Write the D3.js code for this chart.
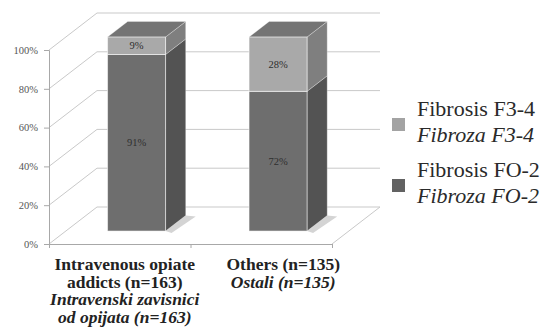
<!DOCTYPE html>
<html>
<head>
<meta charset="utf-8">
<script src="https://cdn.jsdelivr.net/npm/d3@7"></script>
<style>
  #chart text, #chart tspan { font-family: "Liberation Serif", "Times New Roman", Tinos, serif !important; }
</style>
</head>
<body style="margin:0;padding:0;background:#fff">
<svg id="chart" width="548" height="328" style="display:block"></svg>
<script>
// Groups and their two-line (English / Serbian) labels
const categories = ["iv", "others"];
const categoryLabelsEn = [["Intravenous opiate", "addicts (n=163)"], ["Others (n=135)"]];
const categoryLabelsSr = [["Intravenski zavisnici", "od opijata (n=163)"], ["Ostali (n=135)"]];

// Share of patients per fibrosis stage (percent)
const fibrosisF02 = [91, 72];
const fibrosisF34 = [9, 28];

// Series names for the legend
const seriesEn = ["Fibrosis F3-4", "Fibrosis FO-2"];
const seriesSr = ["Fibroza F3-4", "Fibroza FO-2"];

// Value axis ticks
const yTicks = [0, 20, 40, 60, 80, 100];

// ---------- layout ----------
const SERIF = "Liberation Serif";
const svg = d3.select("#chart");
const front = { left: 49, right: 332, top: 50, bottom: 244 };
const depth = { dx: 48, dy: -37 };        // vector from front plane to back wall
const barDepth = { f0: 0.35, f1: 0.77 };  // bar placement inside the depth

const x = d3.scaleBand().domain(categories).range([front.left, front.right]);
const y = d3.scaleLinear().domain([0, 100]).range([front.bottom, front.top]);
const barW = x.bandwidth() * 0.41;

const gridColor = "#c9c9c9";

// ---------- walls and floor ----------
const walls = svg.append("g");
yTicks.forEach(t => {
  const yy = y(t);
  walls.append("path")
    .attr("d", `M${front.left},${yy} L${front.left + depth.dx},${yy + depth.dy} L${front.right + depth.dx},${yy + depth.dy}`)
    .attr("fill", "none").attr("stroke", gridColor).attr("stroke-width", 1);
});
walls.append("path")
  .attr("d", `M${front.right},${front.bottom} L${front.right + depth.dx},${front.bottom + depth.dy}`)
  .attr("fill", "none").attr("stroke", gridColor).attr("stroke-width", 1);

// ---------- stacked 3D bars ----------
const stackData = categories.map((c, i) => ({
  cat: c,
  segs: [
    { key: "F02", y0: 0, y1: fibrosisF02[i], value: fibrosisF02[i] },
    { key: "F34", y0: fibrosisF02[i], y1: fibrosisF02[i] + fibrosisF34[i], value: fibrosisF34[i] }
  ]
}));

const faceColors = {
  F02: { front: "#6e6e6e", side: "#535353", top: "#616161" },
  F34: { front: "#a9a9a9", side: "#7f7f7f", top: "#747474" }
};

const ox = barDepth.f0 * depth.dx, oy = barDepth.f0 * depth.dy;
const sx = (barDepth.f1 - barDepth.f0) * depth.dx, sy = (barDepth.f1 - barDepth.f0) * depth.dy;

const bars = svg.append("g");
stackData.forEach(d => {
  const xl = x(d.cat) + (x.bandwidth() - barW) / 2 + ox;
  const xr = xl + barW;
  const yb = y(0) + oy;
  // faint floor shadow behind the bar
  bars.append("path")
    .attr("d", `M${xr},${yb} L${xr + sx},${yb + sy} L${xr + sx + 10},${yb + sy + 1} L${xr + 6},${yb + 2} Z`)
    .attr("fill", "#d4d4d4");

  d.segs.forEach((s, si) => {
    const yt = y(s.y1) + oy, ybs = y(s.y0) + oy;
    const col = faceColors[s.key];
    bars.append("path")
      .attr("d", `M${xr},${yt} L${xr + sx},${yt + sy} L${xr + sx},${ybs + sy} L${xr},${ybs} Z`)
      .attr("fill", col.side).attr("stroke", "rgba(255,255,255,0.35)").attr("stroke-width", 0.8);
    if (si === d.segs.length - 1) {
      bars.append("path")
        .attr("d", `M${xl},${yt} L${xl + sx},${yt + sy} L${xr + sx},${yt + sy} L${xr},${yt} Z`)
        .attr("fill", col.top).attr("stroke", "rgba(255,255,255,0.35)").attr("stroke-width", 0.8);
    }
    bars.append("rect")
      .attr("x", xl).attr("y", yt).attr("width", barW).attr("height", ybs - yt)
      .attr("fill", col.front).attr("stroke", "rgba(255,255,255,0.55)").attr("stroke-width", 1);
    bars.append("text")
      .attr("x", xl + barW / 2).attr("y", (yt + ybs) / 2 + 3.5)
      .attr("text-anchor", "middle").attr("font-size", 10.5).attr("fill", "#2e2e2e")
      .attr("font-family", SERIF)
      .text(s.value + "%");
  });
});

// ---------- axes ----------
const axisColor = "#a8a8a8";
const yAxis = d3.axisLeft(y).tickValues(yTicks).tickSize(5).tickPadding(6).tickFormat(d => d + "%");
const gy = svg.append("g").attr("transform", `translate(${front.left},0)`).call(yAxis)
  .attr("font-family", SERIF);
gy.select(".domain").attr("stroke", axisColor);
gy.selectAll(".tick line").attr("stroke", axisColor);
gy.selectAll(".tick text").attr("font-family", SERIF).attr("font-size", 10.5).attr("fill", "#555");

const xEdge = d3.scaleLinear().domain([0, categories.length]).range([front.left, front.right]);
const xAxis = d3.axisBottom(xEdge).tickValues(d3.range(categories.length + 1)).tickSize(4).tickFormat("");
const gx = svg.append("g").attr("transform", `translate(0,${front.bottom})`).call(xAxis);
gx.select(".domain").attr("stroke", axisColor);
gx.selectAll(".tick line").attr("stroke", axisColor);

// category labels: one text block per group, bold English lines then bold italic Serbian lines
const labelNudge = [5, 22];
categories.forEach((c, i) => {
  const cx = x(c) + x.bandwidth() / 2 + labelNudge[i];
  const lines = categoryLabelsEn[i].map(t => ({ t, it: false }))
    .concat(categoryLabelsSr[i].map(t => ({ t, it: true })));
  const txt = svg.append("text")
    .attr("x", cx).attr("y", 270)
    .attr("text-anchor", "middle").attr("fill", "#222")
    .attr("font-weight", "bold").attr("font-size", 17.5)
    .attr("font-family", SERIF);
  lines.forEach((l, li) => {
    txt.append("tspan")
      .attr("x", cx).attr("dy", li === 0 ? 0 : 17.5)
      .attr("font-style", l.it ? "italic" : "normal")
      .text(l.t);
  });
});

// ---------- legend ----------
const legendColors = ["#a3a3a3", "#626262"];
seriesEn.forEach((s, i) => {
  const gy0 = 116 + i * 61;
  svg.append("rect").attr("x", 392).attr("y", gy0 + 2).attr("width", 13).attr("height", 13)
    .attr("fill", legendColors[i]);
  const t = svg.append("text").attr("x", 417).attr("y", gy0)
    .attr("font-size", 22).attr("fill", "#2a2a2a")
    .attr("font-family", SERIF);
  t.append("tspan").attr("x", 417).attr("dy", 0).text(s);
  t.append("tspan").attr("x", 417).attr("dy", 26).attr("font-style", "italic").text(seriesSr[i]);
});
</script>
</body>
</html>
